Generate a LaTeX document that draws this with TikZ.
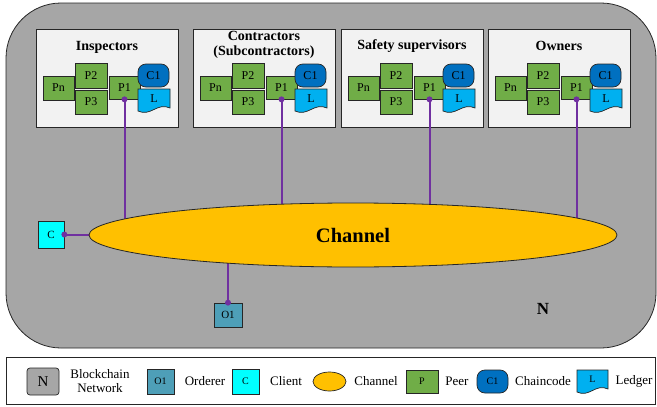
\documentclass[tikz,border=0pt]{standalone}
\usepackage{fontspec}
\setmainfont{Liberation Serif}
\usetikzlibrary{shapes.geometric,calc}
\pgfdeclarelayer{back}\pgfdeclarelayer{links}
\pgfsetlayers{back,links,main}
\definecolor{netgray}{HTML}{A6A6A6}
\definecolor{orgfill}{HTML}{F2F2F2}
\definecolor{peergreen}{HTML}{70AD47}
\definecolor{ccblue}{HTML}{0070C0}
\definecolor{ledgerblue}{HTML}{00B0F0}
\definecolor{clientcyan}{HTML}{00FFFF}
\definecolor{ordererteal}{HTML}{4E9FB8}
\definecolor{chanyellow}{HTML}{FFC000}
\definecolor{linkpurple}{HTML}{7030A0}
\definecolor{edge}{HTML}{262626}
\tikzset{
  base/.style={draw=edge, line width=0.7pt, inner sep=0pt, font=\fontsize{12}{13}\selectfont},
  peer/.style={base, fill=peergreen, minimum width=31pt, minimum height=24pt},
  cc/.style={base, fill=ccblue, rounded corners=8pt, minimum width=31pt, minimum height=23pt},
  org/.style={draw=edge, line width=0.9pt, fill=orgfill, minimum width=142pt, minimum height=98pt, inner sep=0pt},
  orgtitle/.style={font=\bfseries\fontsize{14}{15}\selectfont, align=center, inner sep=0pt},
  link/.style={draw=linkpurple, line width=2pt},
  dot/.style={circle, fill=linkpurple, inner sep=0pt, minimum size=6pt},
  lgtext/.style={font=\fontsize{13}{14}\selectfont, align=center, inner sep=0pt},
  smalllabel/.style={font=\fontsize{10}{10}\selectfont},
}
% ledger (document) shape: x0, y0, w, h, node name, font size
\newcommand\ledgerat[6]{%
  \draw[draw=edge, line width=0.7pt, fill=ledgerblue]
    (#1,#2) -- (#1+#3,#2) -- (#1+#3,#2+#4-4)
    .. controls (#1+0.6*#3,#2+#4-10) and (#1+0.4*#3,#2+#4+5) .. (#1,#2+#4-1) -- cycle;
  \node[font=\fontsize{#6}{#6}\selectfont, inner sep=0pt] (#5) at (#1+0.5*#3,#2+0.5*#4-2) {L};
}
\begin{document}
\begin{tikzpicture}[x=1pt,y=-1pt]
\useasboundingbox (0,0) rectangle (657,407);
\begin{pgfonlayer}{back}
  \draw[draw=edge, line width=0.8pt, fill=netgray, rounded corners=55pt] (6,3) rectangle (656,348);
\end{pgfonlayer}

\node[ellipse, draw=edge, line width=0.8pt, fill=chanyellow, minimum width=528pt, minimum height=64pt,
      inner sep=0pt, font=\bfseries\fontsize{20.5}{22}\selectfont] (ch) at (353,235) {Channel};

\foreach \L/\i/\ty/\t in {36/1/47/Inspectors, 193/2/44.5/{Contractors\\(Subcontractors)}, 341/3/46/Safety supervisors, 488/4/46/Owners}{
  \begin{pgfonlayer}{back}
    \node[org] (org\i) at (\L+71,78) {};
  \end{pgfonlayer}
  \node[orgtitle] (title\i) at (\L+71,\ty) {\t};
  \node[peer] (pn\i) at (\L+22.5,88) {Pn};
  \node[peer, minimum width=32pt, minimum height=25pt] (ptwo\i) at (\L+55,75.5) {P2};
  \node[peer, minimum width=32pt] (pthree\i) at (\L+55,102) {P3};
  \node[peer, minimum height=23pt] (pone\i) at (\L+88.5,87.5) {P1};
  \node[cc] (cc\i) at (\L+117.5,75.5) {C1};
  \ledgerat{\L+102}{89}{32}{23}{led\i}{12}
  \begin{pgfonlayer}{links}
    \draw[link] (pone\i.south) -- (pone\i.south |- ch.center);
  \end{pgfonlayer}
  \node[dot] (dot\i) at (pone\i.south) {};
}

% client
\node[base, fill=clientcyan, minimum width=26pt, minimum height=27pt, font=\fontsize{11}{11}\selectfont] (cl) at (51,234.5) {C};
\begin{pgfonlayer}{links}
  \draw[link] (cl.east) -- (cl.east -| ch.center);
\end{pgfonlayer}
\node[dot] (cldot) at (cl.east) {};

% orderer
\node[base, fill=ordererteal, minimum width=28pt, minimum height=24pt, font=\fontsize{11}{11}\selectfont] (ord) at (228,315) {O1};
\begin{pgfonlayer}{links}
  \draw[link] (ord.north) -- (ord.north |- ch.center);
\end{pgfonlayer}
\node[dot] (orddot) at (ord.north) {};

\node[font=\bfseries\fontsize{17}{17}\selectfont] (nlabel) at (543,309) {N};

% legend
\draw[draw=edge, line width=0.9pt] (6,357) rectangle (655,404);
\node[base, fill=netgray, rounded corners=3pt, minimum width=32pt, minimum height=27pt, font=\fontsize{15}{15}\selectfont] (lgn) at (43,381.5) {N};
\node[lgtext] (lgnt) at (100,381) {Blockchain\\Network};
\node[base, fill=ordererteal, minimum width=27pt, minimum height=25pt, smalllabel] (lgo) at (160.5,381.5) {O1};
\node[lgtext] (lgot) at (205,381) {Orderer};
\node[base, fill=clientcyan, minimum width=27pt, minimum height=25pt, smalllabel] (lgc) at (245.5,381.5) {C};
\node[lgtext] (lgct) at (286,381) {Client};
\node[ellipse, draw=edge, line width=0.7pt, fill=chanyellow, minimum width=33pt, minimum height=19pt, inner sep=0pt] (lgch) at (329.5,381.5) {};
\node[lgtext] (lgcht) at (376,381) {Channel};
\node[peer, minimum width=32pt, minimum height=23pt, smalllabel] (lgp) at (422,381.5) {P};
\node[lgtext] (lgpt) at (457,381) {Peer};
\node[cc, smalllabel] (lgcc) at (492.5,381.5) {C1};
\node[lgtext] (lgcct) at (543,381) {Chaincode};
\ledgerat{577}{370}{31}{23}{lgl}{10}
\node[lgtext] (lglt) at (634,381) {Ledger};
\end{tikzpicture}
\end{document}
